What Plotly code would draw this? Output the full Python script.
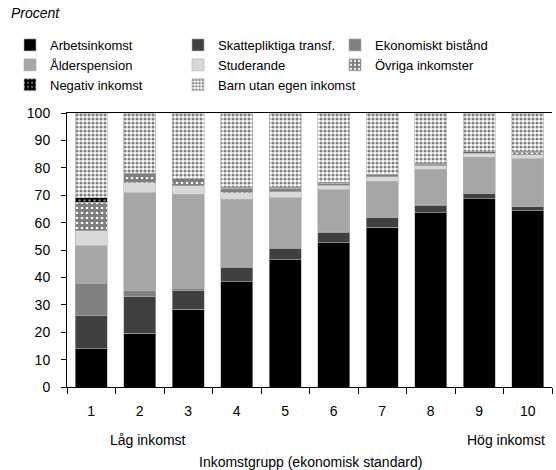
import plotly.graph_objects as go

categories = [1, 2, 3, 4, 5, 6, 7, 8, 9, 10]
tick_labels = ["1", "2", "3", "4", "5", "6", "7", "8", "9", "10"]
arbetsinkomst = [14.0, 19.6, 28.3, 38.4, 46.4, 52.7, 58.3, 63.6, 68.7, 64.3]
skatteplikt = [12.0, 13.4, 6.9, 5.1, 4.2, 3.8, 3.4, 2.8, 1.9, 1.5]
ekon_bistand = [11.6, 2.2, 0.9, 0.5, 0.4, 0.2, 0.2, 0.2, 0.2, 0.2]
alderspension = [14.0, 35.7, 34.3, 24.5, 18.1, 15.2, 13.2, 12.8, 13.0, 17.3]
studerande = [5.4, 3.7, 3.1, 2.4, 2.2, 1.8, 1.7, 1.4, 1.5, 1.4]
ovriga = [10.5, 3.2, 2.2, 1.7, 1.3, 0.7, 0.6, 0.5, 0.2, 1.0]
negativ = [1.5, 0.3, 0.3, 0.3, 0.3, 0.3, 0.3, 0.3, 0.3, 0.4]
barn = [31.0, 21.9, 24.0, 27.1, 27.1, 25.3, 22.3, 18.4, 14.2, 13.9]
y_ticks = [0, 10, 20, 30, 40, 50, 60, 70, 80, 90, 100]

FONT = "Liberation Sans Narrow, Liberation Sans, Arial, sans-serif"
W, H = 556, 470
L, R, T, B = 67, 4, 113, 83

fig = go.Figure()

def add(name, vals, color, legend, pattern=None):
    marker = dict(color=color, line=dict(color="#b0b0b0", width=0.6))
    if pattern:
        marker["pattern"] = pattern
    fig.add_trace(go.Bar(x=categories, y=vals, name=name, marker=marker,
                         legend=legend))

add("Arbetsinkomst", arbetsinkomst, "#000000", "legend")
add("Skattepliktiga transf.", skatteplikt, "#404040", "legend2")
add("Ekonomiskt bistånd", ekon_bistand, "#808080", "legend3")
add("Ålderspension", alderspension, "#a6a6a6", "legend")
add("Studerande", studerande, "#d9d9d9", "legend2")
add("Övriga inkomster", ovriga, "#ffffff", "legend3",
    dict(shape="+", fgcolor="#000000", bgcolor="#ffffff", size=5, solidity=0.8))
add("Negativ inkomst", negativ, "#000000", "legend",
    dict(shape=".", fgcolor="#ffffff", bgcolor="#000000", size=5, solidity=0.2))
add("Barn utan egen inkomst", barn, "#ffffff", "legend2",
    dict(shape=".", fgcolor="#000000", bgcolor="#ffffff", size=4, solidity=0.5))

leg_common = dict(xref="container", yref="container", xanchor="left", yanchor="top",
                  font=dict(family=FONT, size=13, color="#000000"),
                  bgcolor="rgba(0,0,0,0)", traceorder="normal", itemwidth=30,
                  tracegroupgap=0)

fig.update_layout(
    width=W, height=H,
    margin=dict(l=L, r=R, t=T, b=B, autoexpand=False),
    paper_bgcolor="white", plot_bgcolor="white",
    barmode="stack", bargap=0.34,
    showlegend=True,
    legend=dict(x=10 / W, y=1 - 30 / H, **leg_common),
    legend2=dict(x=178 / W, y=1 - 30 / H, **leg_common),
    legend3=dict(x=335 / W, y=1 - 30 / H, **leg_common),
    font=dict(family=FONT, size=14, color="#000000"),
    xaxis=dict(range=[0.5, 10.5], tickvals=categories, ticktext=tick_labels,
               showline=True, linecolor="#000000", linewidth=1,
               mirror=True, ticks="", showgrid=False, zeroline=False,
               ticklabelstandoff=11,
               minor=dict(ticks="outside", tick0=0.5, dtick=1, ticklen=6,
                          tickcolor="#000000", showgrid=False),
               tickfont=dict(family=FONT, size=14)),
    yaxis=dict(range=[0, 100], tickvals=y_ticks, showline=True, linecolor="#000000",
               linewidth=1, ticks="outside", ticklen=5, tickcolor="#000000",
               showgrid=False, zeroline=False, ticklabelstandoff=8,
               tickfont=dict(family=FONT, size=14)),
    annotations=[
        dict(text="<i>Procent</i>", xref="paper", yref="paper", x=-58 / 485, y=1 + 100 / 274,
             xanchor="left", yanchor="middle", showarrow=False,
             font=dict(family="Liberation Sans, Arial, sans-serif", size=14)),
        dict(text="Låg inkomst", xref="paper", yref="paper", x=81 / 485, y=-53 / 274,
             xanchor="center", yanchor="middle", showarrow=False,
             font=dict(family=FONT, size=14)),
        dict(text="Hög inkomst", xref="paper", yref="paper", x=480 / 485, y=-53 / 274,
             xanchor="right", yanchor="middle", showarrow=False,
             font=dict(family=FONT, size=14)),
        dict(text="Inkomstgrupp (ekonomisk standard)", xref="paper", yref="paper",
             x=243 / 485, y=-75 / 274, xanchor="center", yanchor="middle", showarrow=False,
             font=dict(family=FONT, size=14)),
    ],
)

fig.write_html("out.html", config={"displayModeBar": False},
               post_script="document.body.style.margin='0px';")
